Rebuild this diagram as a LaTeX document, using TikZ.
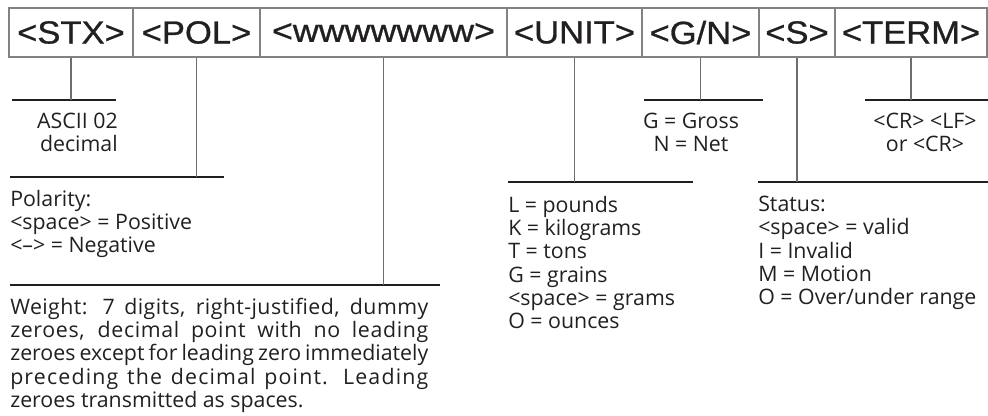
\documentclass[tikz,border=0pt]{standalone}
\usepackage{fontspec}
\setmainfont{Open Sans}
\newfontfamily\boxfont[FakeBold=0.8]{Liberation Sans}
\definecolor{ink}{HTML}{231F20}
\definecolor{vgray}{HTML}{6D6E71}
\definecolor{bgray}{HTML}{808285}
\tikzset{
  fld/.style={draw=bgray, line width=0.9pt, inner sep=0pt, minimum height=36.75pt, text=ink,
    font=\boxfont\fontsize{24}{28}\selectfont},
  vline/.style={draw=vgray, line width=0.9pt},
  hbar/.style={draw=ink, line width=0.8pt},
  desc/.style={inner sep=0pt, text=ink, font=\fontsize{16}{17.4}\selectfont},
}
\newcommand{\wide}[1]{\scalebox{1.08}[1]{#1}}
\newcommand{\ls}[2]{{\addfontfeature{LetterSpace=#1}#2}}
\begin{document}
\begin{tikzpicture}[x=0.75pt,y=-0.75pt]
\useasboundingbox (0,0) rectangle (988,415);
% fields
\node[fld, minimum width=93pt]    (stx)  at (71,32.5)    {\wide{<STX>}};
\node[fld, minimum width=95.25pt] (pol)  at (196.5,32.5) {\wide{<POL>}};
\node[fld, minimum width=185.25pt](www)  at (383.5,32.5) {\scalebox{1.12}[1]{<wwwwwww>}};
\node[fld, minimum width=101.25pt](unit) at (574.5,32.5) {\wide{<UNIT>}};
\node[fld, minimum width=87.75pt] (gn)   at (700.5,32.5) {\wide{<G/N>}};
\node[fld, minimum width=57pt]    (st)   at (797,32.5)   {\wide{<S>}};
\node[fld, minimum width=114pt]   (term) at (911,32.5)   {\wide{<TERM>}};
% bars
\coordinate (stxL) at (12,100);  \coordinate (stxR) at (116,100);
\coordinate (polL) at (10,177);  \coordinate (polR) at (224,177);
\coordinate (wwwL) at (10,285);  \coordinate (wwwR) at (440,285);
\coordinate (unitL) at (508,182); \coordinate (unitR) at (693,182);
\coordinate (gnL) at (644,100);  \coordinate (gnR) at (763,100);
\coordinate (stL) at (758,182);  \coordinate (stR) at (988,182);
\coordinate (termL) at (865,100); \coordinate (termR) at (988,100);
\foreach \b in {stx,pol,www,unit,gn,st,term}{\draw[hbar] (\b L) -- (\b R);}
\foreach \b in {stx,pol,www,unit,gn,st,term}{\draw[vline] (\b.south) -- (\b.south |- \b L);}
% descriptions
\node[desc, anchor=north east, align=right] (dstx) at (118,113) {ASCII 02\\decimal};
\node[desc, anchor=north west, align=left] (dpol) at (10,190) {Polarity:\\<space> = Positive\\<–> = Negative};
\node[desc, anchor=north west, text width=313.5pt, align=justify] (dwww) at (10,298)
  {\ls{2}{Weight: 7 digits, right-justified, dummy}\linebreak
   \ls{3}{zeroes, decimal point with no leading}\linebreak
   zeroes except for leading zero immediately\linebreak
   \ls{5.5}{preceding the decimal point. Leading}\linebreak
   zeroes transmitted as spaces.};
\node[desc, anchor=north west, align=left] (dunit) at (508,196)
  {L = pounds\\K = kilograms\\T = tons\\G = grains\\<space> = grams\\O = ounces};
\node[desc, anchor=north, align=center] (dgn) at (691,113) {G = Gross\\N = Net};
\node[desc, anchor=north west, align=left] (dst) at (758,196)
  {Status:\\<space> = valid\\I = Invalid\\M = Motion\\O = Over/under range};
\node[desc, anchor=north, align=center] (dterm) at (925,113) {<CR> <LF>\\or <CR>};
\end{tikzpicture}
\end{document}
